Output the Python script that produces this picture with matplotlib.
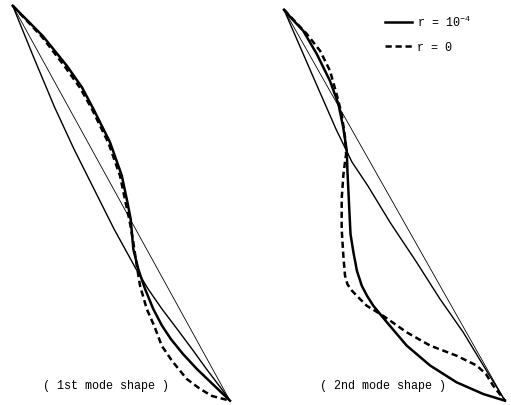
import matplotlib
matplotlib.use("Agg")
import matplotlib.pyplot as plt

# mode shapes, digitized: u = sideways position, v = position along the member
# (0,0) = upper node, (1,1) = lower node

# 1st mode
chord1_u = [0.0, 1.0]
chord1_v = [0.0, 1.0]

ref1_u = [0.0, 0.096, 0.192, 0.282, 0.374, 0.466, 0.565, 0.623, 0.687, 0.756,
          0.825, 0.892, 0.961, 1.0]
ref1_v = [0.0, 0.130, 0.256, 0.363, 0.464, 0.565, 0.664, 0.717, 0.768, 0.818,
          0.869, 0.920, 0.970, 1.0]

rsmall1_u = [0.0, 0.139, 0.249, 0.318, 0.371, 0.448, 0.502, 0.528, 0.543, 0.555,
             0.578, 0.609, 0.647, 0.687, 0.728, 0.784, 0.848, 0.924, 1.0]
rsmall1_v = [0.0, 0.077, 0.152, 0.206, 0.261, 0.346, 0.430, 0.498, 0.540, 0.616,
             0.667, 0.717, 0.768, 0.810, 0.844, 0.882, 0.920, 0.960, 1.0]

rzero1_u = [0.0, 0.135, 0.241, 0.310, 0.364, 0.441, 0.494, 0.519, 0.538, 0.555,
            0.571, 0.586, 0.617, 0.653, 0.686, 0.733, 0.801, 0.862, 0.917, 1.0]
rzero1_v = [0.0, 0.079, 0.155, 0.208, 0.261, 0.348, 0.431, 0.497, 0.545, 0.599,
            0.658, 0.709, 0.768, 0.813, 0.861, 0.899, 0.945, 0.970, 0.988, 1.0]

# 2nd mode
chord2_u = [0.0, 1.0]
chord2_v = [0.0, 1.0]

ref2_u = [0.0, 0.136, 0.235, 0.308, 0.380, 0.480, 0.600, 0.706, 0.811, 0.902, 1.0]
ref2_v = [0.0, 0.177, 0.305, 0.390, 0.451, 0.544, 0.646, 0.740, 0.825, 0.910, 1.0]

rsmall2_u = [0.0, 0.032, 0.087, 0.148, 0.208, 0.246, 0.268, 0.284, 0.287, 0.296,
             0.301, 0.314, 0.330, 0.352, 0.376, 0.404, 0.465, 0.555, 0.661, 0.781,
             0.902, 1.0]
rsmall2_v = [0.0, 0.021, 0.054, 0.113, 0.182, 0.241, 0.301, 0.361, 0.412, 0.517,
             0.574, 0.620, 0.668, 0.706, 0.732, 0.757, 0.799, 0.859, 0.910, 0.953,
             0.983, 1.0]

rzero2_u = [0.0, 0.103, 0.163, 0.208, 0.238, 0.261, 0.276, 0.281, 0.269, 0.261,
            0.261, 0.268, 0.276, 0.287, 0.303, 0.330, 0.374, 0.449, 0.555, 0.661,
            0.781, 0.872, 0.914, 0.947, 1.0]
rzero2_v = [0.0, 0.062, 0.105, 0.156, 0.216, 0.267, 0.326, 0.369, 0.420, 0.484,
            0.561, 0.625, 0.680, 0.702, 0.716, 0.732, 0.757, 0.783, 0.825, 0.859,
            0.885, 0.910, 0.932, 0.962, 1.0]

captions = ["( 1st mode shape )", "( 2nd mode shape )"]
legend_labels = [r"r = 10$^{-4}$", "r = 0"]

plt.rcParams["font.family"] = "Liberation Mono"
plt.rcParams["mathtext.fontset"] = "custom"
plt.rcParams["mathtext.rm"] = "Liberation Mono"
plt.rcParams["mathtext.it"] = "Liberation Mono"

W, H = 511, 406
fig = plt.figure(figsize=(W / 100, H / 100), dpi=100)


def panel(x0, y0, x1, y1):
    # node positions in pixels -> axes box
    ax = fig.add_axes([x0 / W, 1 - y1 / H, (x1 - x0) / W, (y1 - y0) / H])
    ax.set_xlim(0, 1)
    ax.set_ylim(1, 0)
    ax.axis("off")
    return ax


ax1 = panel(12.7, 6.7, 230, 401.7)
ax2 = panel(284, 10.7, 505, 401.7)

panels = [
    (ax1, chord1_u, chord1_v, ref1_u, ref1_v, rsmall1_u, rsmall1_v, rzero1_u, rzero1_v),
    (ax2, chord2_u, chord2_v, ref2_u, ref2_v, rsmall2_u, rsmall2_v, rzero2_u, rzero2_v),
]

handles = []
for ax, cu, cv, fu, fv, su, sv, zu, zv in panels:
    ax.plot(cu, cv, color="black", lw=0.6, clip_on=False)
    ax.plot(fu, fv, color="black", lw=1.0, clip_on=False, solid_joinstyle="round")
    h1, = ax.plot(su, sv, color="black", lw=1.8, clip_on=False,
                  solid_joinstyle="round")
    h2, = ax.plot(zu, zv, color="black", lw=1.8, ls=(0, (2.5, 1.5)), clip_on=False)
    handles = [h1, h2]

fig.text(43 / W, 1 - 386.5 / H, captions[0], fontsize=8.5, va="center", ha="left")
fig.text(320 / W, 1 - 386.5 / H, captions[1], fontsize=8.5, va="center", ha="left")

fig.legend(handles, legend_labels, loc="upper left",
           bbox_to_anchor=(385 / W, 1 - 15 / H), bbox_transform=fig.transFigure,
           frameon=False, fontsize=8.5, handlelength=2.3, handletextpad=0.4,
           borderpad=0, borderaxespad=0, labelspacing=1.0)

fig.savefig("out.png", dpi=100)
